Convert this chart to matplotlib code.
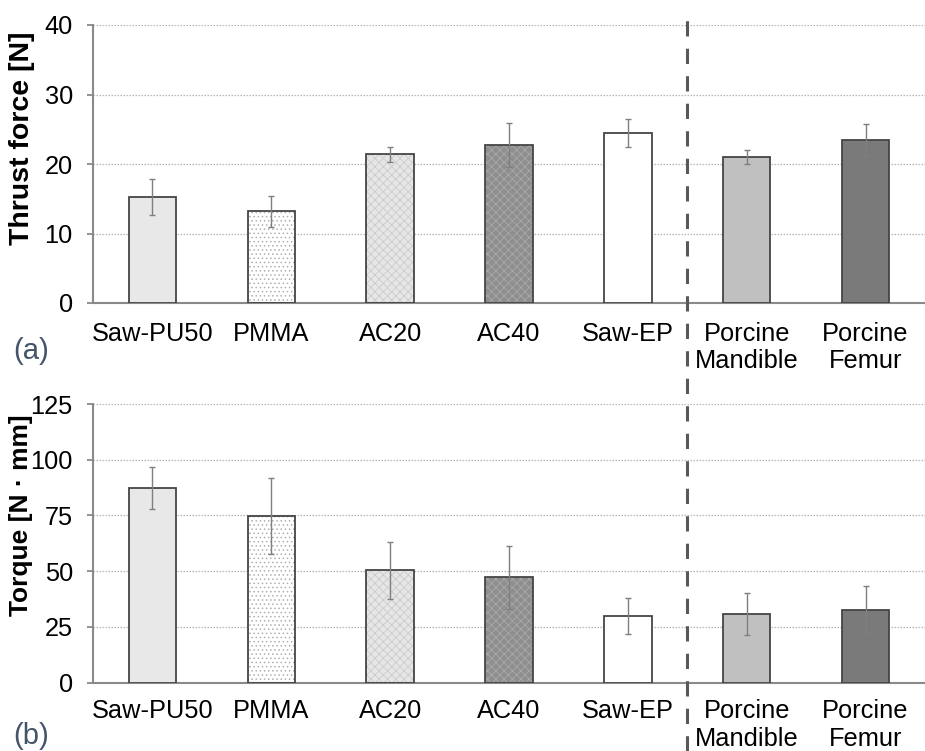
import matplotlib
matplotlib.use("Agg")
import matplotlib.pyplot as plt
import matplotlib.transforms as mtransforms
from matplotlib.lines import Line2D
import numpy as np

plt.rcParams['font.family'] = ['Liberation Sans', 'DejaVu Sans']
plt.rcParams['hatch.linewidth'] = 0.6

categories = ["Saw-PU50", "PMMA", "AC20", "AC40", "Saw-EP", "Porcine\nMandible", "Porcine\nFemur"]
thrust = [15.3, 13.2, 21.4, 22.7, 24.5, 21.0, 23.45]
thrust_err = [2.6, 2.2, 1.1, 3.2, 2.0, 1.0, 2.3]
torque = [87.4, 74.8, 50.5, 47.2, 29.8, 30.7, 32.8]
torque_err = [9.5, 17.0, 12.8, 14.0, 8.1, 9.4, 10.5]

face_colors = ["#e8e8e8", "#ffffff", "#e6e6e6", "#8e8e8e", "#ffffff", "#c0c0c0", "#7a7a7a"]
hatches = [None, "....", "xxxx", "xxxx", None, None, None]
hatch_colors = [None, "#b0b0b0", "#cbcbcb", "#a9a9a9", None, None, None]

W, H = 925, 751
fig = plt.figure(figsize=(W / 100, H / 100), dpi=100)

def make_axes(top_px, bottom_px):
    left = 93 / W
    return fig.add_axes([left, 1 - bottom_px / H, 1 - left, (bottom_px - top_px) / H])

ax1 = make_axes(25, 303)
ax2 = make_axes(404, 682.7)

def draw(ax, vals, errs, ymax, step, pad):
    x = np.arange(len(categories))
    for i in range(len(categories)):
        if hatches[i]:
            ax.bar(x[i], vals[i], width=0.4, color=face_colors[i], hatch=hatches[i],
                   edgecolor=hatch_colors[i], linewidth=0, zorder=2)
            ax.bar(x[i], vals[i], width=0.4, fill=False, edgecolor="#454545",
                   linewidth=1.3, zorder=3)
        else:
            ax.bar(x[i], vals[i], width=0.4, color=face_colors[i], edgecolor="#454545",
                   linewidth=1.3, zorder=3)
    ax.errorbar(x, vals, yerr=errs, fmt="none", ecolor="#7f7f7f", elinewidth=1.0,
                capsize=2.5, capthick=1.0, zorder=4)
    ax.set_xlim(-0.5, len(categories) - 0.5)
    ax.set_ylim(0, ymax)
    ax.set_yticks(np.arange(0, ymax + 0.1, step))
    ax.set_xticks(x)
    ax.set_xticklabels(categories, fontsize=18.3, linespacing=1.17)
    ax.tick_params(axis="x", length=0, pad=pad)
    ax.tick_params(axis="y", length=4.5, width=1.2, color="#7f7f7f", labelsize=18.3, pad=10)
    for s in ["top", "right"]:
        ax.spines[s].set_visible(False)
    for s in ["left", "bottom"]:
        ax.spines[s].set_color("#8a8a8a")
        ax.spines[s].set_linewidth(1.5)
    ax.yaxis.grid(True, linestyle=(0, (1.2, 1.2)), color="#b5b5b5", linewidth=0.9, zorder=0)
    ax.set_axisbelow(True)

draw(ax1, thrust, thrust_err, 40, 10, 13.5)
draw(ax2, torque, torque_err, 125, 25, 12)

fig.text(22 / W, 1 - 138 / H, "Thrust force [N]", rotation=90, ha="center", va="center",
         fontsize=20.5, fontweight="bold")
fig.text(21 / W, 1 - 515 / H, "Torque [N \u00b7 mm]", rotation=90, ha="center", va="center",
         fontsize=19, fontweight="bold")

fig.text(31 / W, 1 - 351 / H, "(a)", ha="center", va="center", fontsize=21, color="#44546a")
fig.text(31 / W, 1 - 736 / H, "(b)", ha="center", va="center", fontsize=21, color="#44546a")

trans = mtransforms.blended_transform_factory(ax1.transData, fig.transFigure)
sep = Line2D([4.5, 4.5], [0, 1 - 12 / H], transform=trans, color="#595959",
             linewidth=2.2, linestyle=(0, (5, 4)), zorder=10)
fig.add_artist(sep)

fig.savefig("out.png", dpi=100)
